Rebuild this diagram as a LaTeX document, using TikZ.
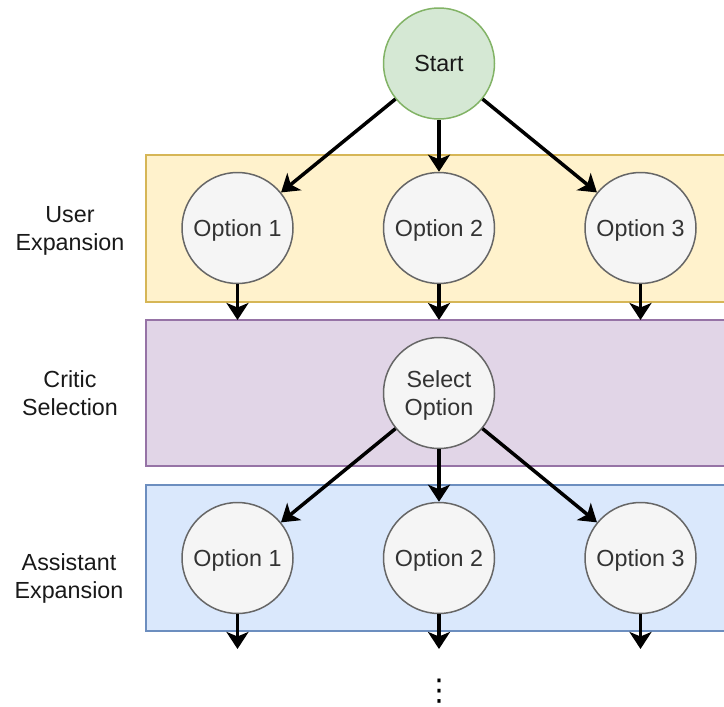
\documentclass[tikz,border=0pt]{standalone}
\usepackage{fontspec}
\setmainfont{Liberation Sans}
\newfontfamily\symfont{DejaVu Sans}
\usetikzlibrary{arrows.meta}
\definecolor{greenfill}{HTML}{D5E8D4}
\definecolor{greenline}{HTML}{82B366}
\definecolor{yelfill}{HTML}{FFF2CC}
\definecolor{yelline}{HTML}{D6B656}
\definecolor{purfill}{HTML}{E1D5E7}
\definecolor{purline}{HTML}{9673A6}
\definecolor{bluefill}{HTML}{DAE8FC}
\definecolor{blueline}{HTML}{6C8EBF}
\definecolor{optfill}{HTML}{F5F5F5}
\definecolor{optline}{HTML}{666666}
\definecolor{opttext}{HTML}{333333}
\tikzset{
  txt/.style={font=\fontsize{23.3}{28}\selectfont},
  circ/.style={circle, minimum size=111pt, inner sep=0pt, line width=1.5pt, txt, align=center, text depth=0pt},
  optnode/.style={circ, draw=optline, fill=optfill, text=opttext},
  startnode/.style={circ, draw=greenline, fill=greenfill, text=black!90},
  band/.style={line width=1.5pt},
  lbl/.style={txt, align=center, text=black!90, text depth=0pt},
  conn/.style={line width=3.5pt, -{Stealth[length=17pt, width=22pt, inset=4.5pt]}},
}
\begin{document}
\begin{tikzpicture}[x=1pt, y=-1pt]
\clip (0,0) rectangle (724,707);
\useasboundingbox (0,0) rectangle (724,707);
% bands
\draw[band, draw=yelline, fill=yelfill] (146,155) rectangle (740,302);
\draw[band, draw=purline, fill=purfill] (146,320) rectangle (740,466);
\draw[band, draw=blueline, fill=bluefill] (146,485) rectangle (740,631);
% side labels
\node[lbl] (l1) at (70,228) {User\\Expansion};
\node[lbl] (l2) at (70,393) {Critic\\Selection};
\node[lbl] (l3) at (69,576) {Assistant\\Expansion};
% nodes
\node[startnode] (start) at (439,63.5) {Start};
\node[optnode] (u1) at (237.5,228) {Option 1};
\node[optnode] (u2) at (439,228) {Option 2};
\node[optnode] (u3) at (640.5,228) {Option 3};
\node[optnode] (sel) at (439,393) {Select\\Option};
\node[optnode] (a1) at (237.5,558) {Option 1};
\node[optnode] (a2) at (439,558) {Option 2};
\node[optnode] (a3) at (640.5,558) {Option 3};
\node[text=black, font=\symfont\fontsize{30}{36}\selectfont, inner sep=0pt] (dots) at (439,691) {⋮};
% free ends
\coordinate (e1) at (237.5,320);
\coordinate (e2) at (439,320);
\coordinate (e3) at (640.5,320);
\coordinate (f1) at (237.5,649);
\coordinate (f2) at (439,649);
\coordinate (f3) at (640.5,649);
% connectors
\draw[conn] (start) -- (u1);
\draw[conn] (start) -- (u2);
\draw[conn] (start) -- (u3);
\draw[conn] (u1) -- (e1);
\draw[conn] (u2) -- (e2);
\draw[conn] (u3) -- (e3);
\draw[conn] (sel) -- (a1);
\draw[conn] (sel) -- (a2);
\draw[conn] (sel) -- (a3);
\draw[conn] (a1) -- (f1);
\draw[conn] (a2) -- (f2);
\draw[conn] (a3) -- (f3);
\end{tikzpicture}
\end{document}
